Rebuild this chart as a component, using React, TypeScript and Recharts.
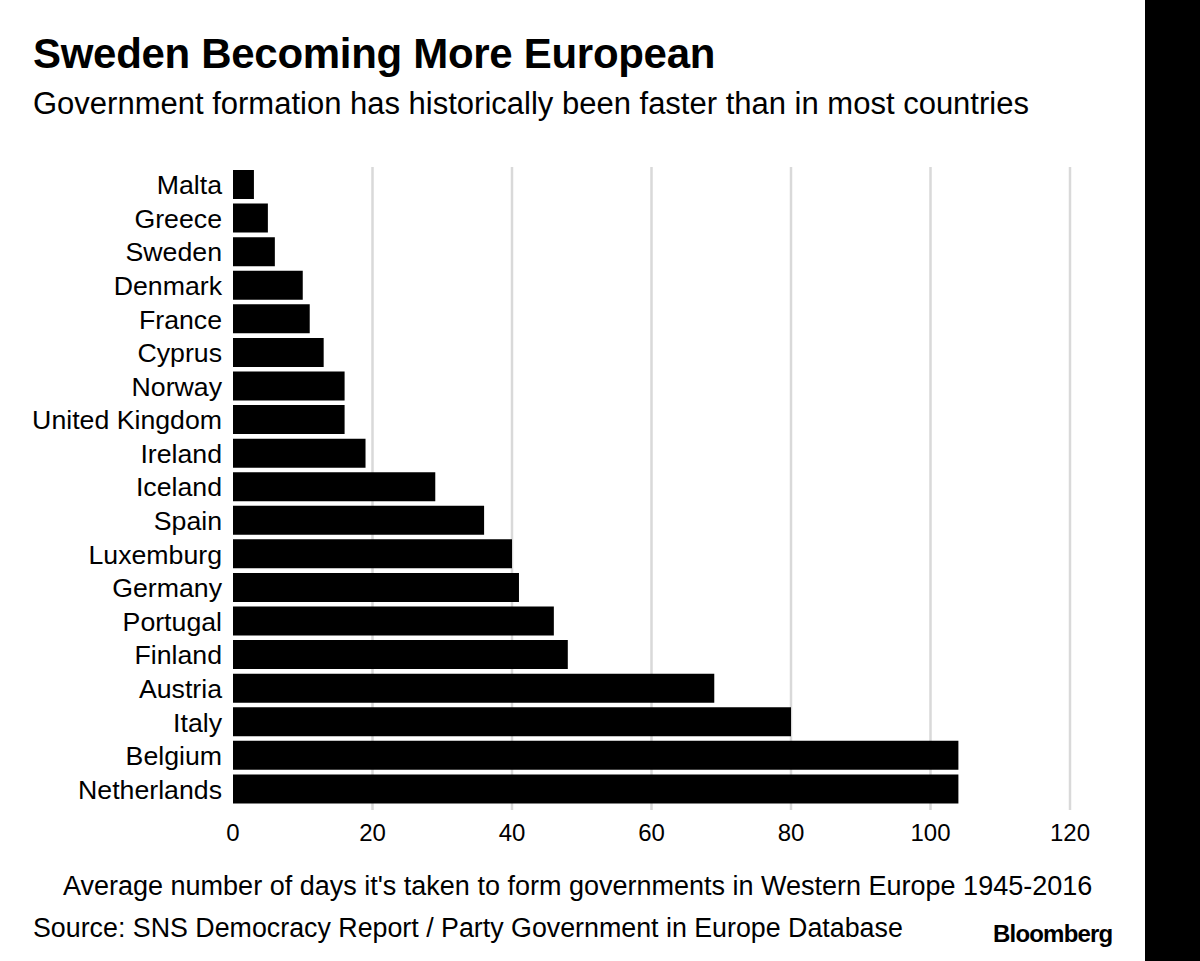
import { BarChart, Bar, XAxis, YAxis, CartesianGrid } from 'recharts';

const countries = [
  'Malta', 'Greece', 'Sweden', 'Denmark', 'France', 'Cyprus', 'Norway',
  'United Kingdom', 'Ireland', 'Iceland', 'Spain', 'Luxemburg', 'Germany',
  'Portugal', 'Finland', 'Austria', 'Italy', 'Belgium', 'Netherlands',
];
const avgDays = [3, 5, 6, 10, 11, 13, 16, 16, 19, 29, 36, 40, 41, 46, 48, 69, 80, 104, 104];
const xTicks = [0, 20, 40, 60, 80, 100, 120];

const data = countries.map((country, i) => ({ country, days: avgDays[i] }));

const font = '"Liberation Sans", Arial, Helvetica, sans-serif';

export default function App() {
  return (
    <div style={{ position: 'absolute', left: 0, top: 0, width: 1200, height: 961, background: '#fff', fontFamily: font, color: '#000', overflow: 'hidden' }}>
      <div style={{ position: 'absolute', left: 33, top: 30, fontSize: 42, fontWeight: 700, letterSpacing: -0.3, whiteSpace: 'nowrap' }}>
        Sweden Becoming More European
      </div>
      <div style={{ position: 'absolute', left: 33, top: 86, fontSize: 31, whiteSpace: 'nowrap' }}>
        Government formation has historically been faster than in most countries
      </div>

      <div style={{ position: 'absolute', left: 0, top: 0 }}>
        <BarChart
          width={1145}
          height={961}
          data={data}
          layout="vertical"
          margin={{ top: 167, right: 75, bottom: 111, left: 0 }}
        >
          <CartesianGrid
            horizontal={false}
            stroke="#d9d9d9"
            strokeWidth={2.5}
            verticalCoordinatesGenerator={({ offset }: any) =>
              xTicks.slice(1).map((t) => offset.left + (t / 120) * offset.width)
            }
          />
          <XAxis
            type="number"
            domain={[0, 120]}
            ticks={xTicks}
            axisLine={false}
            tickLine={false}
            tickMargin={8}
            height={40}
            tick={{ fill: '#000', fontSize: 24, fontFamily: font }}
          />
          <YAxis
            type="category"
            dataKey="country"
            width={233}
            axisLine={false}
            tickLine={false}
            tickMargin={5}
            interval={0}
            padding={{ top: 1, bottom: 4 }}
            tick={{ fill: '#000', fontSize: 26.7, fontFamily: font }}
          />
          <Bar dataKey="days" fill="#000" barSize={29} isAnimationActive={false} />
        </BarChart>
      </div>

      <div style={{ position: 'absolute', left: 63, top: 871, fontSize: 27, whiteSpace: 'nowrap' }}>
        Average number of days it's taken to form governments in Western Europe 1945-2016
      </div>
      <div style={{ position: 'absolute', left: 33, top: 913, fontSize: 26.8, whiteSpace: 'nowrap' }}>
        Source: SNS Democracy Report / Party Government in Europe Database
      </div>
      <div style={{ position: 'absolute', left: 993, top: 920, fontSize: 24, fontWeight: 700, letterSpacing: -0.8, whiteSpace: 'nowrap' }}>
        Bloomberg
      </div>
      <div style={{ position: 'absolute', left: 1145, top: 0, width: 55, height: 961, background: '#000' }} />
    </div>
  );
}
